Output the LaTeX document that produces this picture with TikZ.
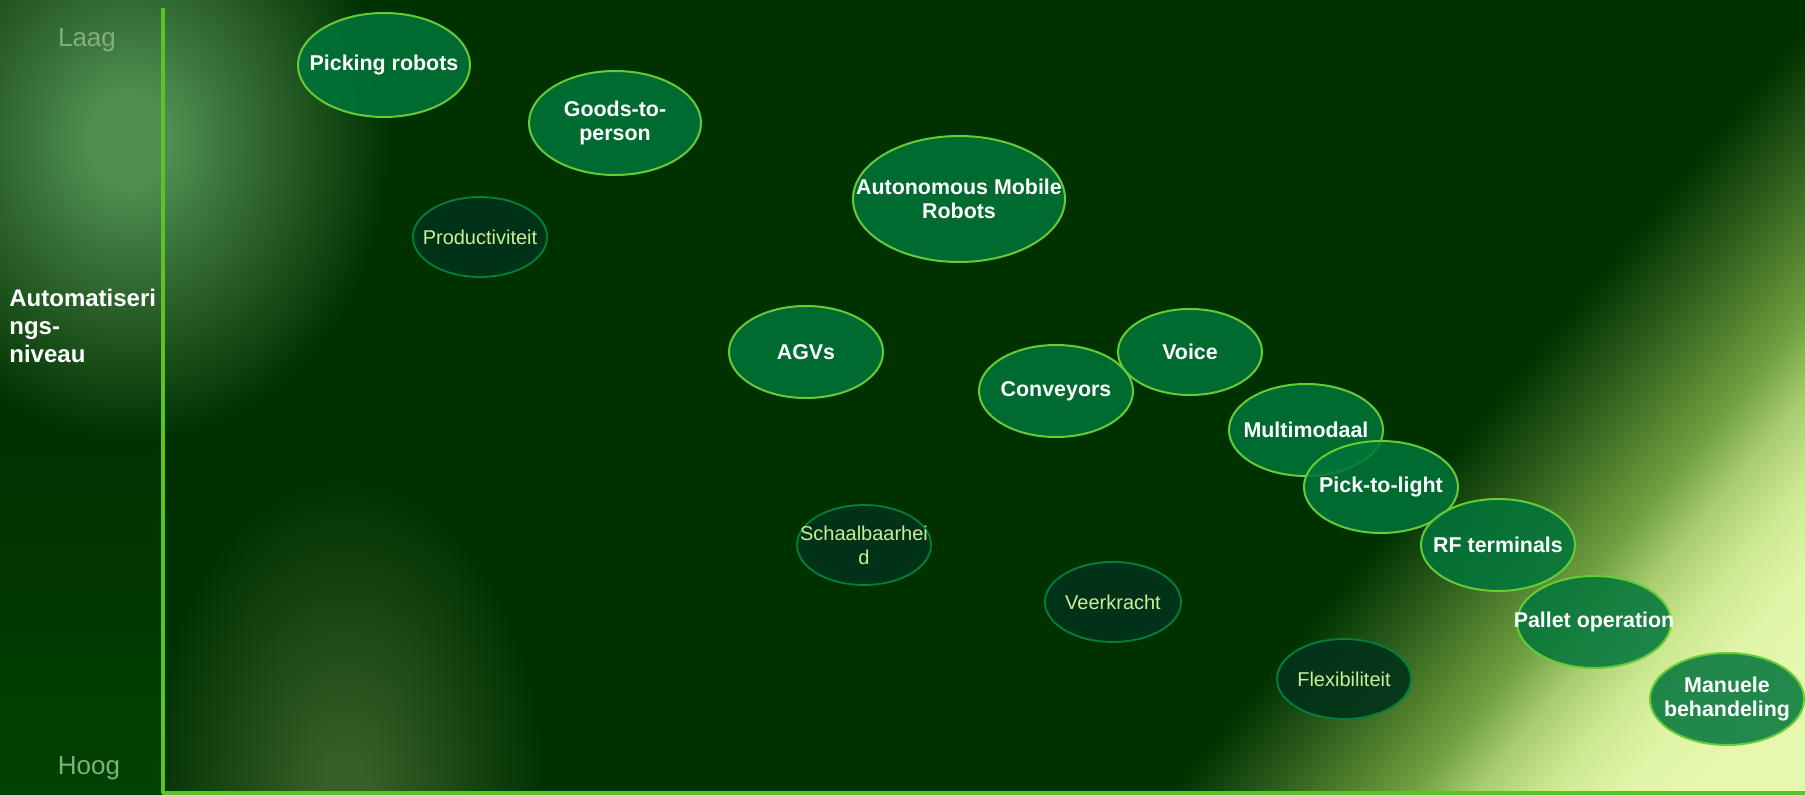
\documentclass[tikz,border=0pt]{standalone}
\usepackage{fontspec}
\setmainfont{Liberation Sans}

\definecolor{bgbase}{HTML}{003200}
\definecolor{bgpanel}{HTML}{024202}
\definecolor{glowleft}{HTML}{508C50}
\definecolor{glowfoot}{HTML}{375F28}
\definecolor{glowa}{HTML}{2A5A1A}
\definecolor{glowb}{HTML}{4A7A2A}
\definecolor{glowc}{HTML}{70A040}
\definecolor{glowd}{HTML}{A8CC70}
\definecolor{glowe}{HTML}{CCE890}
\definecolor{glowf}{HTML}{E0F5A8}
\definecolor{glowpeak}{HTML}{E6F8B0}
\definecolor{blobfill}{HTML}{00753A}
\definecolor{blobrim}{HTML}{66CC33}
\definecolor{softfill}{HTML}{00331A}
\definecolor{softrim}{HTML}{00803F}
\definecolor{softtext}{HTML}{CCEE99}
\definecolor{scaletext}{HTML}{80B080}
\definecolor{axisgreen}{HTML}{5CC22A}

% glows for the background (path edge sits at 25bp)
\pgfdeclareradialshading{leftglow}{\pgfpoint{0bp}{0bp}}{color(0bp)=(glowleft); color(4bp)=(glowleft); color(25bp)=(bgbase); color(50bp)=(bgbase)}
\pgfdeclareradialshading{footglow}{\pgfpoint{0bp}{0bp}}{color(0bp)=(glowfoot); color(3bp)=(glowfoot); color(25bp)=(bgbase); color(50bp)=(bgbase)}
% band across the lower right corner (path from 25bp to 75bp)
\pgfdeclarehorizontalshading{cornerglow}{100bp}{color(0bp)=(bgbase); color(38.5bp)=(bgbase); color(43bp)=(glowa); color(46.25bp)=(glowb); color(50bp)=(glowc); color(53.2bp)=(glowd); color(56.5bp)=(glowe); color(60.3bp)=(glowf); color(64bp)=(glowpeak); color(100bp)=(glowpeak)}

\begin{document}
\begin{tikzpicture}[x=0.5pt,y=-0.5pt,line join=round,
    blob/.style={fill=blobfill,fill opacity=0.85,draw=blobrim,line width=1pt},
    softblob/.style={fill=softfill,fill opacity=0.9,draw=softrim,line width=0.9pt},
    tag/.style={text=white,align=center,inner sep=0pt,font=\bfseries\fontsize{10.7}{12.3}\selectfont},
    softtag/.style={text=softtext,align=center,inner sep=0pt,font=\fontsize{10}{12}\selectfont},
    scalelabel/.style={text=scaletext,inner sep=0pt,font=\fontsize{13}{15}\selectfont},
    title/.style={text=white,align=left,inner sep=0pt,font=\bfseries\fontsize{12}{13.8}\selectfont},
    axis/.style={draw=axisgreen,line width=1.75pt}]
	\useasboundingbox (0,0) rectangle (1805,795);
	% background
	\begin{scope}
		\clip (0,0) rectangle (1805,795);
		\fill[bgbase] (0,0) rectangle (1805,795);
		\begin{scope}[transform canvas={shift={(1441,754)},rotate=-39.7}]
			\shade[shading=cornerglow] (-400,-900) rectangle (400,900);
		\end{scope}
		\shade[shading=leftglow] (130,140) ellipse (260 and 300);
		\shade[shading=footglow] (345,800) ellipse (200 and 320);
		\shade[top color=bgbase,bottom color=bgpanel] (0,440) rectangle (163,795);
	\end{scope}
	% axis
	\coordinate (top) at (163,8);
	\coordinate (origin) at (163,793);
	\coordinate (right) at (1805,793);
	\draw[axis] (top) -- (origin) -- (right);
	\node[scalelabel] (low) at (87,40) {Laag};
	\node[scalelabel] (high) at (89,768) {Hoog};
	\node[title,anchor=west] (level) at (9,326) {Automatiseri\\ngs-\\niveau};
	% soft factors
	\draw[softblob] (480,237) ellipse (67 and 40);
	\node[softtag] (prod) at (480,237) {Productiviteit};
	\draw[softblob] (864,545) ellipse (67 and 40);
	\node[softtag] (schaal) at (864,545) {Schaalbaarhei\\d};
	\draw[softblob] (1113,602) ellipse (68 and 40);
	\node[softtag] (veer) at (1113,602) {Veerkracht};
	\draw[softblob] (1344,679) ellipse (67 and 40);
	\node[softtag] (flex) at (1344,679) {Flexibiliteit};
	% solutions
	\draw[blob] (384,65) ellipse (86 and 52);
	\node[tag] (picking) at (384,65) {Picking robots};
	\draw[blob] (615,123) ellipse (86 and 52);
	\node[tag] (goods) at (615,123) {Goods-to-\\person};
	\draw[blob] (959,199) ellipse (106 and 63);
	\node[tag] (amr) at (959,199) {Autonomous Mobile\\Robots};
	\draw[blob] (806,352) ellipse (77 and 46);
	\node[tag] (agv) at (806,352) {AGVs};
	\draw[blob] (1056,391) ellipse (77 and 46);
	\node[tag] (conv) at (1056,391) {Conveyors};
	\draw[blob] (1190,352) ellipse (72 and 43);
	\node[tag] (voice) at (1190,352) {Voice};
	\draw[blob] (1306,430) ellipse (77 and 46);
	\node[tag] (multi) at (1306,430) {Multimodaal};
	\draw[blob] (1381,487) ellipse (77 and 46);
	\node[tag] (ptl) at (1381,487) {Pick-to-light};
	\draw[blob] (1498,545) ellipse (77 and 46);
	\node[tag] (rf) at (1498,545) {RF terminals};
	\draw[blob] (1594,622) ellipse (77 and 46);
	\node[tag] (pallet) at (1594,622) {Pallet operation};
	\draw[blob] (1727,699) ellipse (77 and 46);
	\node[tag] (manual) at (1727,699) {Manuele\\behandeling};
\end{tikzpicture}
\end{document}
